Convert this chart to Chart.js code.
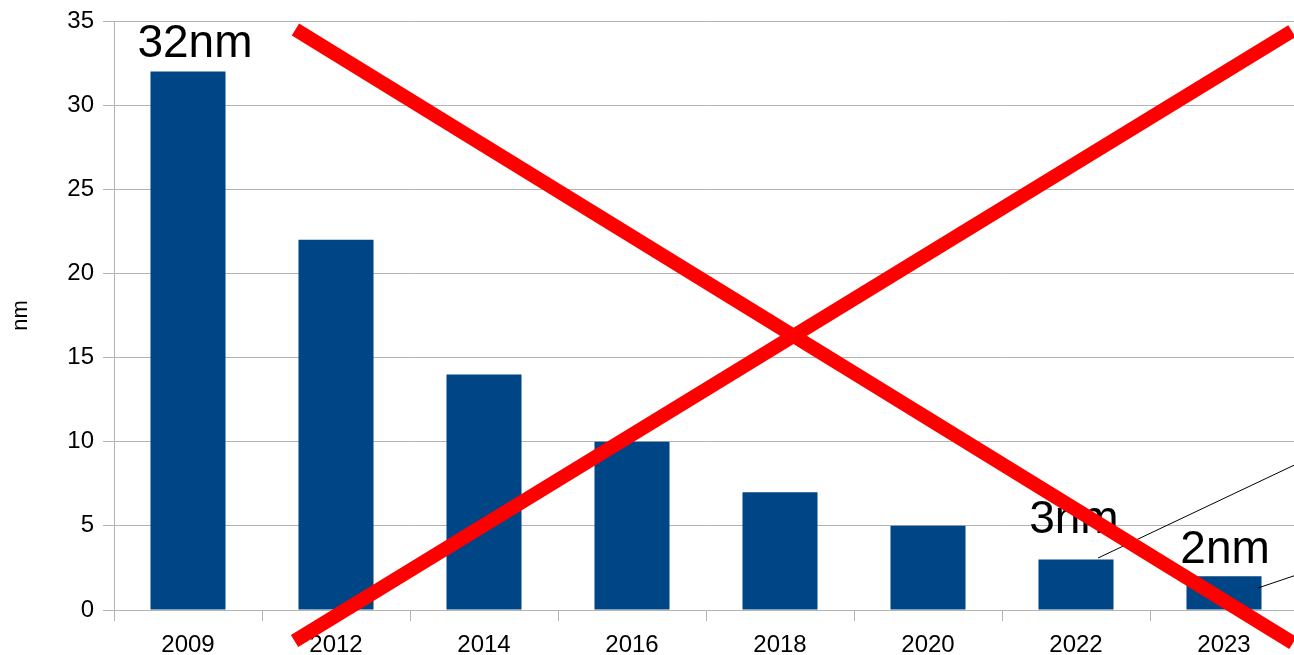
<!DOCTYPE html>
<html lang="en">
<head>
    <meta charset="UTF-8">
    <title>nm</title>
    <script src="https://cdn.jsdelivr.net/npm/chart.js"></script>
    <style>
        html, body {
            margin: 0;
            padding: 0;
            background: #ffffff;
            overflow: hidden;
        }
        #wrap {
            position: relative;
            width: 1298px;
            height: 655px;
        }
    </style>
</head>
<body>
    <div id="wrap"><canvas id="chart"></canvas></div>
    <script>
        /* data */
        const years = ['2009', '2012', '2014', '2016', '2018', '2020', '2022', '2023'];
        const sizes = [32, 22, 14, 10, 7, 5, 3, 2];
        const yTicks = [0, 5, 10, 15, 20, 25, 30, 35];

        /* labels placed in data units: [category index, value at baseline] */
        const labelTexts = ['32nm', '3nm', '2nm'];
        const labelX = [0.047, 5.986, 7.007];
        const labelY = [32.86, 4.575, 2.79];

        /* leader lines, data units */
        const leaders = [
            [6.149, 3.09, 8.19, 11.59],
            [7.23, 1.31, 8.19, 4.16]
        ];

        /* the big red cross, data units */
        const cross = [
            [0.726, 34.49, 7.466, -1.96],
            [0.720, -1.84, 7.459, 34.40]
        ];

        const font = 'Liberation Sans, Arial, sans-serif';

        const overlay = {
            id: 'overlay',
            afterDraw(chart) {
                const c = chart.ctx;
                const sx = chart.scales.x;
                const sy = chart.scales.y;
                const px = v => sx.getPixelForValue(v);
                const py = v => sy.getPixelForValue(v);
                c.save();

                /* leader lines */
                c.strokeStyle = '#000000';
                c.lineWidth = 1;
                leaders.forEach(l => {
                    c.beginPath();
                    c.moveTo(px(l[0]), py(l[1]));
                    c.lineTo(px(l[2]), py(l[3]));
                    c.stroke();
                });

                /* value labels */
                c.fillStyle = '#000000';
                c.font = '46px ' + font;
                c.textAlign = 'center';
                c.textBaseline = 'alphabetic';
                labelTexts.forEach((t, i) => {
                    c.fillText(t, px(labelX[i]), py(labelY[i]));
                });

                /* red cross */
                c.strokeStyle = '#ff0000';
                c.lineWidth = 14;
                c.lineCap = 'butt';
                cross.forEach(l => {
                    c.beginPath();
                    c.moveTo(px(l[0]), py(l[1]));
                    c.lineTo(px(l[2]), py(l[3]));
                    c.stroke();
                });
                c.restore();
            }
        };

        new Chart(document.getElementById('chart'), {
            type: 'bar',
            data: {
                labels: years,
                datasets: [{
                    data: sizes,
                    backgroundColor: '#004586',
                    barPercentage: 0.507,
                    categoryPercentage: 1
                }]
            },
            options: {
                responsive: true,
                maintainAspectRatio: false,
                animation: false,
                layout: { padding: { top: 21, right: 0, bottom: 0, left: 0 } },
                plugins: {
                    legend: { display: false },
                    tooltip: { enabled: false }
                },
                scales: {
                    x: {
                        offset: true,
                        grid: {
                            offset: true,
                            drawOnChartArea: false,
                            tickLength: 11,
                            color: '#b3b3b3'
                        },
                        border: { color: '#b3b3b3' },
                        ticks: {
                            color: '#000000',
                            font: { family: font, size: 24 },
                            padding: 10,
                            maxRotation: 0
                        },
                        afterFit(scale) { scale.height = 45; }
                    },
                    y: {
                        min: 0,
                        max: 35,
                        afterBuildTicks(scale) {
                            scale.ticks = yTicks.map(v => ({ value: v }));
                        },
                        grid: {
                            tickLength: 11,
                            color: '#b3b3b3'
                        },
                        border: { color: '#b3b3b3' },
                        ticks: {
                            color: '#000000',
                            font: { family: font, size: 24 },
                            padding: 9
                        },
                        title: {
                            display: true,
                            text: 'nm',
                            color: '#000000',
                            font: { family: font, size: 22 },
                            padding: { top: 8, bottom: 0 }
                        },
                        afterFit(scale) {
                            scale.width = 114;
                            scale.paddingTop = 0;
                            scale.paddingBottom = 0;
                        }
                    }
                }
            },
            plugins: [overlay]
        });
    </script>
</body>
</html>
